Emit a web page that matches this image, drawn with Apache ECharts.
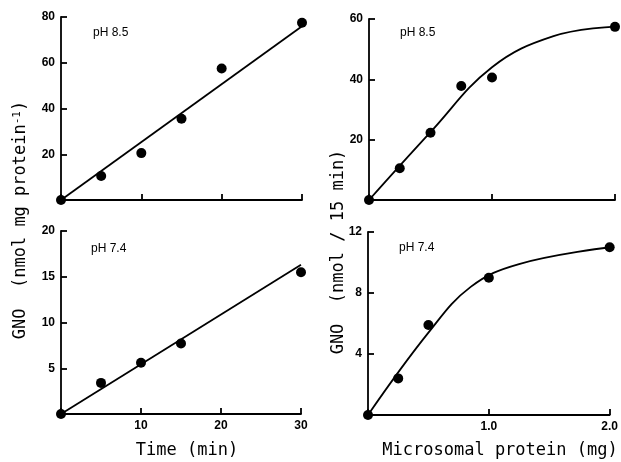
<!DOCTYPE html>
<html>
<head>
<meta charset="utf-8">
<script src="https://cdn.jsdelivr.net/npm/echarts@6/dist/echarts.min.js"></script>
<style>
html,body{margin:0;padding:0;background:#fff;}
#chart{width:621px;height:462px;}
</style>
</head>
<body>
<div id="chart"></div>
<script>
// ---- Data ----
// Panel A: time course, pH 8.5
var timeA = [0, 5, 10, 15, 20, 30];
var gnoA = [0, 10.5, 20.5, 35.5, 57.5, 77.5];
var fitTimeA = [0, 30];
var fitGnoA = [0, 76];
// Panel B: time course, pH 7.4
var timeB = [0, 5, 10, 15, 30];
var gnoB = [0, 3.4, 5.6, 7.7, 15.5];
var fitTimeB = [0, 30];
var fitGnoB = [0, 16.3];
// Panel C: protein dependence, pH 8.5
var protC = [0, 0.25, 0.5, 0.75, 1.0, 2.0];
var gnoC = [0, 10.5, 22.3, 37.8, 40.6, 57.4];
var curveProtC = [0, 0.5, 1.0, 1.5, 2.0];
var curveGnoC = [0, 22.5, 44, 54.3, 57.5];
// Panel D: protein dependence, pH 7.4
var protD = [0, 0.25, 0.5, 1.0, 2.0];
var gnoD = [0, 2.4, 5.9, 9.0, 11.0];
var curveProtD = [0, 0.5, 0.85, 1.25, 2.0];
var curveGnoD = [0, 5.4, 8.4, 9.9, 11.0];
// Axis ranges / ticks
var timeAxis = {min: 0, max: 30, interval: 10};
var protAxis = {min: 0, max: 2, interval: 1};
var yA = {min: 0, max: 80, interval: 20};
var yB = {min: 0, max: 20, interval: 5};
var yC = {min: 0, max: 60, interval: 20};
var yD = {min: 0, max: 12, interval: 4};
var panelLabels = ['pH 8.5', 'pH 7.4', 'pH 8.5', 'pH 7.4'];

function pairs(xs, ys) { return xs.map(function (x, i) { return [x, ys[i]]; }); }

var lineStyle = {color: '#000', width: 1.8};
var labelFont = {color: '#000', fontFamily: 'Liberation Sans', fontSize: 12, fontWeight: 'bold'};

function xAx(idx, range, showLabels, dec) {
  return {
    type: 'value', gridIndex: idx, min: range.min, max: range.max, interval: range.interval,
    axisLine: {show: true, onZero: false, lineStyle: lineStyle},
    axisTick: {show: true, inside: true, length: 6, lineStyle: lineStyle},
    splitLine: {show: false},
    axisLabel: Object.assign({
      show: showLabels, margin: 6,
      formatter: function (v) { return v === 0 ? '' : (dec ? v.toFixed(1) : String(v)); }
    }, labelFont)
  };
}
function yAx(idx, range) {
  return {
    type: 'value', gridIndex: idx, min: range.min, max: range.max, interval: range.interval,
    axisLine: {show: true, onZero: false, lineStyle: lineStyle},
    axisTick: {show: true, inside: true, length: 6, lineStyle: lineStyle},
    splitLine: {show: false},
    axisLabel: Object.assign({
      margin: 6,
      formatter: function (v) { return v === 0 ? '' : String(v); }
    }, labelFont)
  };
}
function scat(idx, data) {
  return {type: 'scatter', xAxisIndex: idx, yAxisIndex: idx, data: data, symbol: 'circle',
    symbolSize: 10, itemStyle: {color: '#000', opacity: 1}, clip: false, z: 3};
}
function ln(idx, data, smooth) {
  return {type: 'line', xAxisIndex: idx, yAxisIndex: idx, data: data, showSymbol: false,
    smooth: smooth ? 0.4 : false,
    lineStyle: {color: '#000', width: 1.8}, clip: false, z: 2};
}

var titleFont = 'DejaVu Sans Mono';
var pHPos = [[93, 33], [91, 249], [400, 33], [399, 248]];

var option = {
  backgroundColor: '#fff',
  animation: false,
  grid: [
    {left: 61, top: 17, width: 241, height: 183},
    {left: 61, top: 231, width: 240, height: 183},
    {left: 369, top: 19, width: 246, height: 181},
    {left: 368, top: 232, width: 245, height: 183}
  ],
  xAxis: [
    xAx(0, timeAxis, false, false),
    xAx(1, timeAxis, true, false),
    xAx(2, protAxis, false, true),
    xAx(3, protAxis, true, true)
  ],
  yAxis: [yAx(0, yA), yAx(1, yB), yAx(2, yC), yAx(3, yD)],
  series: [
    ln(0, pairs(fitTimeA, fitGnoA), false), scat(0, pairs(timeA, gnoA)),
    ln(1, pairs(fitTimeB, fitGnoB), false), scat(1, pairs(timeB, gnoB)),
    ln(2, pairs(curveProtC, curveGnoC), true), scat(2, pairs(protC, gnoC)),
    ln(3, pairs(curveProtD, curveGnoD), true), scat(3, pairs(protD, gnoD))
  ],
  graphic: panelLabels.map(function (t, i) {
    return {type: 'text', x: pHPos[i][0], y: pHPos[i][1],
      style: {text: t, fill: '#000', font: '12px "Liberation Sans"', verticalAlign: 'middle'}};
  }).concat([
    {type: 'text', x: 187, y: 451,
      style: {text: 'Time (min)', fill: '#000', fontFamily: titleFont, fontSize: 17, align: 'center', verticalAlign: 'middle'}},
    {type: 'text', x: 500, y: 451,
      style: {text: 'Microsomal protein (mg)', fill: '#000', fontFamily: titleFont, fontSize: 17, align: 'center', verticalAlign: 'middle'}},
    {type: 'text', x: 21, y: 220, rotation: Math.PI / 2,
      style: {text: 'GNO  (nmol mg protein{sup|-1})', fill: '#000', fontFamily: titleFont, fontSize: 17,
        align: 'center', verticalAlign: 'middle',
        rich: {sup: {fontFamily: titleFont, fontSize: 11, verticalAlign: 'top', padding: [0, 0, 8, 0]}}}},
    {type: 'text', x: 339, y: 252, rotation: Math.PI / 2,
      style: {text: 'GNO  (nmol / 15 min)', fill: '#000', fontFamily: titleFont, fontSize: 17,
        align: 'center', verticalAlign: 'middle'}}
  ])
};

var chart = echarts.init(document.getElementById('chart'), null, {renderer: 'canvas'});
chart.setOption(option);
</script>
</body>
</html>
